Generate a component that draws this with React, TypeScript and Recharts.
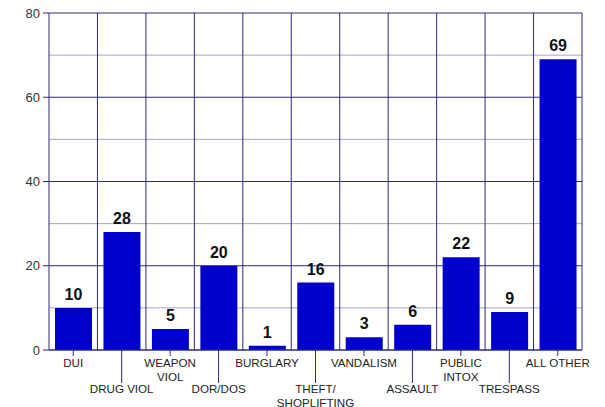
import { BarChart, Bar, XAxis, YAxis, CartesianGrid, LabelList } from 'recharts'

const categories = [
  'DUI',
  'DRUG VIOL',
  'WEAPON\nVIOL',
  'DOR/DOS',
  'BURGLARY',
  'THEFT/\nSHOPLIFTING',
  'VANDALISM',
  'ASSAULT',
  'PUBLIC\nINTOX',
  'TRESPASS',
  'ALL OTHER',
]
const counts = [10, 28, 5, 20, 1, 16, 3, 6, 22, 9, 69]
const yTicks = [0, 20, 40, 60, 80]
const minorTicks = [10, 30, 50, 70]

const data = categories.map((name, i) => ({ name, count: counts[i] }))

const NAVY = '#2a2a80'

// alternate labels between two rows, with a longer tick for the lower row
function CategoryTick(props: any) {
  const { x, y, payload, index } = props
  const lower = index % 2 === 1
  const lines = String(payload.value).split('\n')
  const baseY = lower ? y + 43 : y + 17
  return (
    <g>
      <line x1={x} y1={y} x2={x} y2={lower ? y + 33 : y + 6} stroke={NAVY} strokeWidth={1} />
      {lines.map((line, i) => (
        <text
          key={i}
          x={x}
          y={baseY + i * 13.5}
          textAnchor="middle"
          fontSize={11.6}
          fill="#222"
          fontFamily="Liberation Sans, Arial, sans-serif"
        >
          {line}
        </text>
      ))}
    </g>
  )
}

export default function App() {
  return (
    <div style={{ width: 605, height: 407, background: 'white' }}>
      <style>{'body{margin:0}'}</style>
      <BarChart
        width={605}
        height={407}
        data={data}
        margin={{ top: 13, right: 23, bottom: 7, left: 0 }}
        barSize={37}
      >
        <CartesianGrid
          vertical={false}
          horizontalValues={minorTicks}
          stroke="#a4a4d2"
          strokeWidth={1}
        />
        <CartesianGrid
          horizontalValues={yTicks}
          verticalCoordinatesGenerator={({ offset }: any) =>
            categories.map((_, i) => offset.left + ((i + 1) * offset.width) / categories.length)
          }
          stroke={NAVY}
          strokeWidth={1}
        />
        <XAxis
          dataKey="name"
          height={50}
          interval={0}
          tickSize={0}
          tickMargin={0}
          axisLine={{ stroke: NAVY }}
          tick={<CategoryTick />}
        />
        <YAxis
          width={49}
          domain={[0, 80]}
          ticks={yTicks}
          tickSize={6}
          tickMargin={3}
          axisLine={{ stroke: NAVY }}
          tickLine={{ stroke: NAVY }}
          tick={{ fontSize: 13, fill: '#333', fontFamily: 'Liberation Sans, Arial, sans-serif' }}
        />
        <Bar dataKey="count" fill="#0000cc" isAnimationActive={false}>
          <LabelList
            dataKey="count"
            position="top"
            offset={8}
            fontSize={16}
            fontWeight="bold"
            fill="#111"
            fontFamily="Liberation Sans, Arial, sans-serif"
          />
        </Bar>
      </BarChart>
    </div>
  )
}
